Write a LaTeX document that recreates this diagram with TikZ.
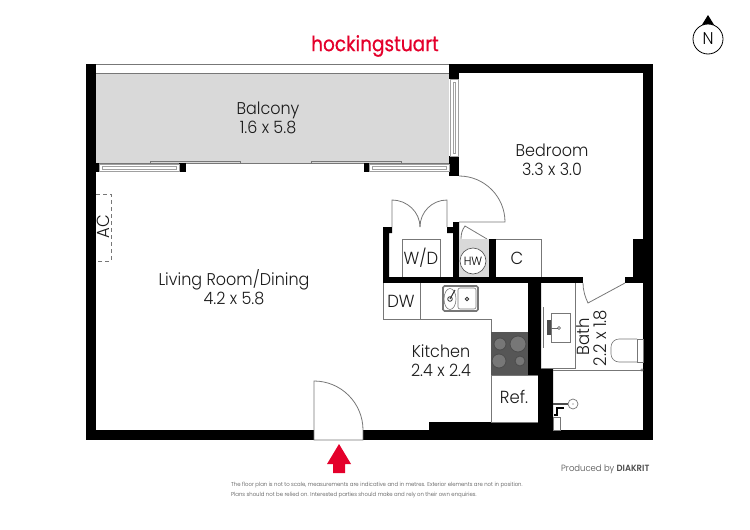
\documentclass[tikz,border=0pt]{standalone}
\usepackage{fontspec}
\setmainfont{Poppins Light}[FakeStretch=0.94]
\newfontfamily\logofont{Poppins}[FakeStretch=0.88, FakeBold=0.6]
\definecolor{logored}{HTML}{E4002B}
\definecolor{planline}{HTML}{777777}
\definecolor{balconygrey}{HTML}{D9D9D9}
\definecolor{cooktop}{HTML}{565656}
\tikzset{
    wall/.style={fill=black},
    thinline/.style={draw=planline, line width=0.8pt},
    windowframe/.style={draw=planline!70, fill=white, line width=0.6pt},
    windowpane/.style={draw=planline!70, line width=0.5pt},
    burner/.style={draw=black!70, fill=planline, line width=0.8pt},
    roomlabel/.style={align=center, font=\fontsize{17}{19}\selectfont, text=black!90, inner sep=0pt},
    fixlabel/.style={font=\fontsize{17.5}{19}\selectfont, text=black!90, inner sep=0pt},
    smalllabel/.style={font=\fontsize{5.7}{7}\selectfont, text=black!70, inner sep=0pt, anchor=west},
}
\begin{document}
\begin{tikzpicture}[x=1pt, y=-1pt]
    \useasboundingbox (0,0) rectangle (750,530);

    % balcony
    \fill[balconygrey] (96,73) rectangle (449,163);
    \draw[thinline] (96,64) -- (449,64);
    \draw[thinline] (96,73) -- (449,73);
    \draw[thinline] (96,163) -- (449,163);
    \draw[thinline, line width=0.6pt] (150,163) -- (150,161) -- (240,161) -- (240,163);
    \draw[thinline, line width=0.6pt] (311,163) -- (311,161) -- (401,161) -- (401,163);

    % walls
    \fill[wall] (86,64) rectangle (96,440);
    \fill[wall] (449,64) rectangle (653,73);
    \fill[wall] (449,73) rectangle (459,79);
    \fill[wall] (643,64) rectangle (653,440);
    \fill[wall] (449,156) rectangle (459,176);
    \fill[wall] (96,163) rectangle (99,172);
    \fill[wall] (179,163) rectangle (186,172);
    \fill[wall] (364,163) rectangle (369,172);
    \fill[wall] (86,430) rectangle (314,440);
    \fill[wall] (363,430) rectangle (653,440);
    \fill[wall] (429,422) rectangle (538,430);
    \fill[wall] (383,277) rectangle (583,283);
    \fill[wall] (625,277) rectangle (643,283);
    \fill[wall] (633,239) rectangle (643,277);
    \fill[wall] (383,227) -- (392,227) -- (392,233) -- (389,233) -- (389,277) -- (383,277) -- cycle;
    \fill[wall] (447,227) -- (453,227) -- (453,222) -- (459,222) -- (459,277) -- (453,277) -- (453,233) -- (447,233) -- cycle;
    \fill[wall] (489,239) rectangle (496,277);
    \fill[wall] (528,283) -- (541,283) -- (541,368) -- (553,368) -- (553,430) -- (538,430) -- (538,375) -- (528,375) -- cycle;

    % windows
    \draw[windowframe] (99,164) rectangle (179,171.5);
    \draw[windowpane] (102,166.5) rectangle (176,169);
    \draw[windowframe] (369,164) rectangle (449,171.5);
    \draw[windowpane] (372,166.5) rectangle (446,169);
    \draw[windowframe] (450.5,79) rectangle (458,156);
    \draw[windowpane] (453,82) rectangle (455.5,153);

    % doors
    \draw[thinline] (459,176) .. controls (484.4,176) and (505,196.6) .. (505,222) -- (459,222);
    \draw[thinline] (392,227) -- (392,200) .. controls (407,200) and (420,212) .. (420,227);
    \draw[thinline] (447,227) -- (447,200) .. controls (432,200) and (420,212) .. (420,227);
    \draw[thinline] (461,239) .. controls (461,234) and (462,230) .. (465,226) -- (487,239);
    \draw[thinline] (583,283) .. controls (583,290) and (585,297) .. (588,303) -- (625,283);
    \draw[thinline] (314,430) -- (314,381) .. controls (341,381) and (363,403) .. (363,430) -- (363,440) -- (314,440) -- cycle;

    % cupboards and kitchen
    \fill[balconygrey] (459,239) rectangle (489,277);
    \draw[thinline] (402,277) -- (402,239) -- (440,239) -- (440,277);
    \draw[thinline] (496,239) -- (541,239) -- (541,277);
    \draw[thinline] (383,283) -- (383,319) -- (491,319) -- (491,422);
    \draw[thinline] (420,283) -- (420,319);
    \draw[thinline] (491,375) -- (538,375);
    \draw[thinline] (491,422) -- (538,422);
    \fill[cooktop] (491,332) rectangle (528,375);
    \draw[burner] (500,344) circle (6);
    \draw[burner] (518,344) circle (8);
    \draw[burner] (499,361) circle (7);
    \draw[burner] (520,361) circle (5);
    \node[draw=black!70, fill=white, circle, minimum size=26pt, inner sep=0pt, line width=0.6pt, font=\fontsize{12}{14}\selectfont] (hotwater) at (473,261) {HW};

    % sink
    \draw[draw=planline, fill=white, rounded corners=1.5pt, line width=1.6pt] (443,286) rectangle (478,311);
    \draw[thinline, line width=0.6pt] (450,299) ellipse (6 and 10.5);
    \draw[thinline, line width=0.6pt, rounded corners=2pt] (458,288) rectangle (476,309);
    \draw[black!80, line width=0.8pt] (450,299) circle (2.3);
    \draw[black!80, line width=0.8pt] (467,299) circle (1.8);
    \draw[black!80, line width=1pt] (450,299) -- (455,290);

    % bathroom
    \draw[thinline] (541,368) -- (575,368) -- (575,283);
    \draw[thinline] (553,370) -- (643,370);
    \draw[thinline, line width=0.6pt] (642,370) circle (1.3);
    \draw[thinline, line width=1pt] (543,307) -- (543,348);
    \draw[thinline, line width=0.6pt] (551,313) rectangle (570,342);
    \fill[black!70] (547,320) rectangle (551,335);
    \draw[black!60, line width=0.8pt] (551,328) -- (558,328);
    \draw[black!70, line width=0.5pt] (559,328) circle (1.5);
    \draw[thinline, line width=0.6pt, rounded corners=8pt] (637,339) -- (611,339) -- (611,362) -- (637,362);
    \draw[thinline, line width=0.6pt] (637,339) rectangle (643,362);
    \draw[thinline, line width=0.7pt] (573,404) circle (5);
    \fill[black!70] (573,404) circle (0.7);
    \draw[black!70, line width=1.4pt] (553,404) -- (568,404);
    \draw[black, line width=1.2pt] (554,415) -- (557,415) -- (557,408) -- (564,408);
    \draw[thinline, line width=0.6pt] (553,417) rectangle (560,430);

    % air conditioner
    \draw[thinline, dash pattern=on 4pt off 3pt, line width=0.6pt] (96,194) -- (111,194) -- (111,261) -- (96,261);
    \node[fixlabel, rotate=90] (aclabel) at (103,227) {AC};

    % labels
    \node[roomlabel] (balcony) at (268,117.5) {Balcony\\1.6 x 5.8};
    \node[roomlabel] (bedroom) at (552,160) {Bedroom\\3.3 x 3.0};
    \node[roomlabel] (living) at (234,287.5) {Living Room/Dining\\4.2 x 5.8};
    \node[roomlabel] (kitchen) at (441,360.5) {Kitchen\\2.4 x 2.4};
    \node[fixlabel] (ref) at (514,397) {Ref.};
    \node[fixlabel] (washer) at (421,258) {W/D};
    \node[fixlabel] (cupboard) at (517,258) {C};
    \node[fixlabel] (dishwasher) at (401,301) {DW};
    \node[fixlabel, rotate=90] (bath) at (583,337) {Bath};
    \node[fixlabel, rotate=90] (bathsize) at (600,338) {2.2 x 1.8};

    % logo, entry arrow, north point, notes
    \node[inner sep=0pt, text=logored, font=\logofont\fontsize{21}{24}\selectfont] (logo) at (375,46) {hockingstuart};
    \fill[logored] (339,444) -- (351,464) -- (345,464) -- (345,473) -- (333,473) -- (333,464) -- (327,464) -- cycle;
    \fill[black] (708,15) -- (716,28) -- (700,28) -- cycle;
    \node[draw=black, fill=white, circle, minimum size=30pt, inner sep=0pt, line width=0.8pt, font=\fontsize{17}{19}\selectfont] (north) at (708,39) {N};
    \node[smalllabel] (noteone) at (231,485) {The floor plan is not to scale, measurements are indicative and in metres. Exterior elements are not in position.};
    \node[smalllabel] (notetwo) at (231,495) {Plans should not be relied on. Interested parties should make and rely on their own enquiries.};
    \node[inner sep=0pt, text=black!70, font=\fontsize{9}{11}\selectfont, anchor=west] (producer) at (561,469) {Produced by \textbf{DIAKRIT}};
\end{tikzpicture}
\end{document}
